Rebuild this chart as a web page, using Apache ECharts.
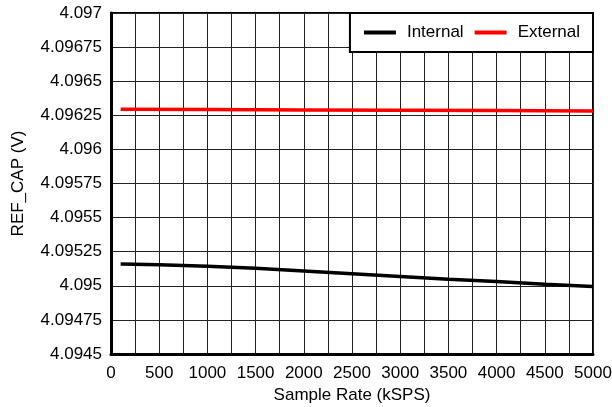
<!DOCTYPE html>
<html><head><meta charset="utf-8">
<script src="https://cdn.jsdelivr.net/npm/echarts@6/dist/echarts.min.js"></script>
<style>html,body{margin:0;padding:0;background:#fff}#c{width:612px;height:407px}</style>
</head><body><div id="c"></div>
<script>
const xInternal = [100, 500, 1000, 1500, 2000, 2500, 3000, 3500, 4000, 4500, 5000];
const internal = [4.09516, 4.095155, 4.095143, 4.095128, 4.095108, 4.095088, 4.095068, 4.095048, 4.095032, 4.095012, 4.094994];
const xExternal = [100, 1000, 2000, 3000, 4000, 5000];
const external = [4.096294, 4.096292, 4.096289, 4.096287, 4.096285, 4.096282];
const yTicks = [4.0945, 4.09475, 4.095, 4.09525, 4.0955, 4.09575, 4.096, 4.09625, 4.0965, 4.09675, 4.097];
const xLabels = [0, 500, 1000, 1500, 2000, 2500, 3000, 3500, 4000, 4500, 5000];

const font = 'Liberation Sans, Arial, sans-serif';
const fs = 17;
const chart = echarts.init(document.getElementById('c'));
chart.setOption({
  animation: false,
  grid: {left: 111, right: 19, top: 13, bottom: 53, show: true, borderColor: '#000', borderWidth: 2,
    containLabel: false, outerBoundsMode: 'none'},
  legend: {
    right: 19, top: 13, orient: 'horizontal',
    backgroundColor: '#fff', borderColor: '#000', borderWidth: 2, borderRadius: 0,
    padding: [11, 13, 11, 14], itemGap: 11, itemWidth: 32, itemHeight: 4, icon: 'rect',
    textStyle: {fontFamily: font, fontSize: fs, color: '#000', padding: [0, 0, 0, 6]},
    data: ['Internal', 'External']
  },
  xAxis: {
    type: 'value', min: 0, max: 5000, interval: 250,
    name: 'Sample Rate (kSPS)', nameLocation: 'middle', nameGap: 30,
    nameTextStyle: {fontFamily: font, fontSize: fs, color: '#000'},
    axisLine: {show: true, lineStyle: {color: '#000', width: 3}},
    axisTick: {show: false},
    axisLabel: {fontFamily: font, fontSize: fs, color: '#000', margin: 11,
      formatter: v => xLabels.indexOf(v) >= 0 ? String(v) : ''},
    splitLine: {show: true, lineStyle: {color: '#222', width: 1}}
  },
  yAxis: {
    type: 'value', min: 4.0945, max: 4.097, interval: 0.00025,
    name: 'REF_CAP (V)', nameLocation: 'middle', nameGap: 84, nameRotate: 90,
    nameTextStyle: {fontFamily: font, fontSize: fs, color: '#000'},
    axisLine: {show: true, lineStyle: {color: '#000', width: 3}},
    axisTick: {show: false},
    axisLabel: {fontFamily: font, fontSize: fs, color: '#000', margin: 9,
      formatter: v => { const t = yTicks.find(k => Math.abs(k - v) < 1e-9); return t !== undefined ? String(t) : ''; }},
    splitLine: {show: true, lineStyle: {color: '#222', width: 1}}
  },
  series: [
    {name: 'Internal', type: 'line', showSymbol: false, color: '#000', lineStyle: {width: 3.5, color: '#000'},
      data: xInternal.map((x, i) => [x, internal[i]])},
    {name: 'External', type: 'line', showSymbol: false, color: '#ff0000', lineStyle: {width: 3.5, color: '#ff0000'},
      data: xExternal.map((x, i) => [x, external[i]])}
  ]
});
</script></body></html>
